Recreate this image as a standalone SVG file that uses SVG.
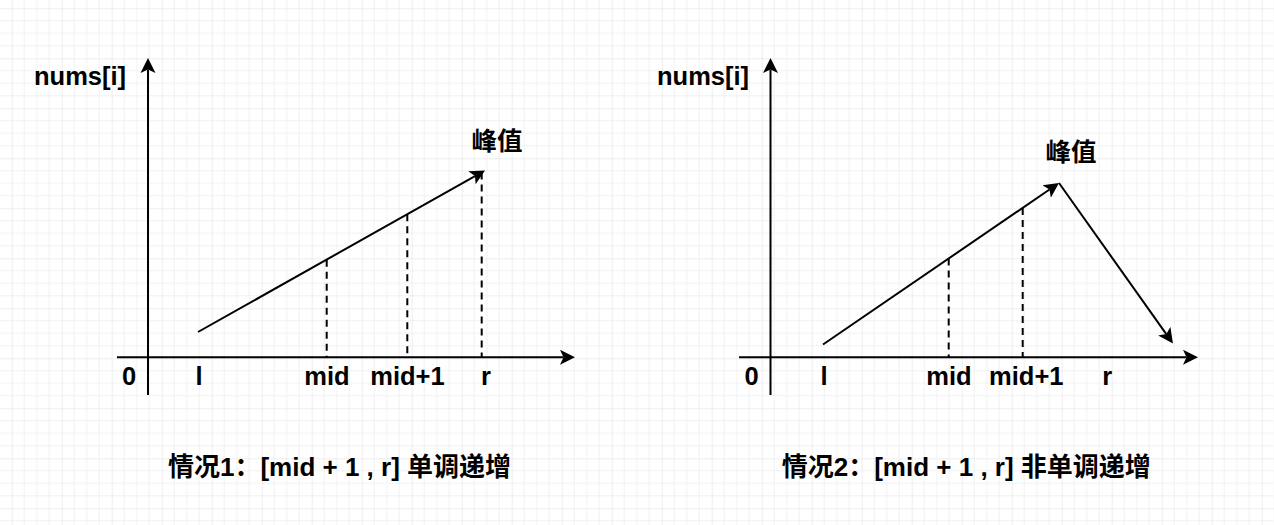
<svg xmlns="http://www.w3.org/2000/svg" width="1274" height="525" viewBox="0 0 1274 525">
<style>
.ax{stroke:#000;stroke-width:2;fill:none}
.ar{stroke:#000;stroke-width:2;fill:none;marker-end:url(#arr)}
.da{stroke:#000;stroke-width:2;fill:none;stroke-dasharray:7 5}
text{font-family:"Liberation Sans","Noto Sans CJK SC",Arial,sans-serif;font-weight:bold;font-size:25.5px;fill:#000}
.c{text-anchor:middle}
.cap{font-size:26px}
</style>
<defs>
<pattern id="grid" patternUnits="userSpaceOnUse" x="11.7" y="8.3" width="50" height="50">
<path d="M12.5,0V50M25,0V50M37.5,0V50M0,12.5H50M0,25H50M0,37.5H50" stroke="#f1f1f1" stroke-width="1" fill="none"/>
<path d="M0,0V50M0,0H50" stroke="#dddddd" stroke-width="1" fill="none"/>
</pattern>
<marker id="arr" markerUnits="userSpaceOnUse" markerWidth="17" markerHeight="17" viewBox="0 -8.5 17 17" refX="3.5" refY="0" orient="auto">
<path d="M0,-7.5L15,0L0,7.5L3.5,0Z" fill="#000"/>
</marker>
</defs>
<rect width="1274" height="525" fill="#ffffff"/>
<rect width="1274" height="525" fill="url(#grid)"/>
<g id="connectors">
<line class="ar" x1="148" y1="395" x2="148" y2="69.5"/>
<line class="ar" x1="117" y1="357.3" x2="563.5" y2="357.3"/>
<line class="ar" x1="198" y1="332" x2="475" y2="176.1"/>
<line class="da" x1="326.7" y1="259.7" x2="326.7" y2="357"/>
<line class="da" x1="407.3" y1="214.3" x2="407.3" y2="357"/>
<line class="da" x1="481.7" y1="172.5" x2="481.7" y2="357"/>
<line class="ar" x1="770.5" y1="395" x2="770.5" y2="69.5"/>
<line class="ar" x1="739" y1="357.3" x2="1186.5" y2="357.3"/>
<line class="ar" x1="823" y1="344.5" x2="1049.5" y2="189.5"/>
<line class="ar" x1="1059" y1="183" x2="1166.3" y2="334.1"/>
<line class="da" x1="948.7" y1="258.5" x2="948.7" y2="357"/>
<line class="da" x1="1022.7" y1="208" x2="1022.7" y2="357"/>
</g>
<g id="chart1-labels">
<text id="ylabel1" x="34" y="85">nums[i]</text>
<text id="peak1" class="c" x="497" y="150">峰值</text>
<text id="zero1" class="c" x="129" y="385">0</text>
<text id="l1" class="c" x="199" y="385">l</text>
<text id="mid1" class="c" x="327" y="385">mid</text>
<text id="midp1" class="c" x="407.5" y="385">mid+1</text>
<text id="r1" class="c" x="486" y="385">r</text>
<text id="cap1" class="c cap" x="339.5" y="476">情况1：[mid + 1 , r] 单调递增</text>
</g>
<g id="chart2-labels">
<text id="ylabel2" x="657" y="85">nums[i]</text>
<text id="peak2" class="c" x="1071" y="161">峰值</text>
<text id="zero2" class="c" x="751.7" y="385">0</text>
<text id="l2" class="c" x="824" y="385">l</text>
<text id="mid2" class="c" x="949" y="385">mid</text>
<text id="midp2" class="c" x="1026.3" y="385">mid+1</text>
<text id="r2" class="c" x="1107.3" y="385">r</text>
<text id="cap2" class="c cap" x="966.3" y="476">情况2：[mid + 1 , r] 非单调递增</text>
</g>
</svg>
